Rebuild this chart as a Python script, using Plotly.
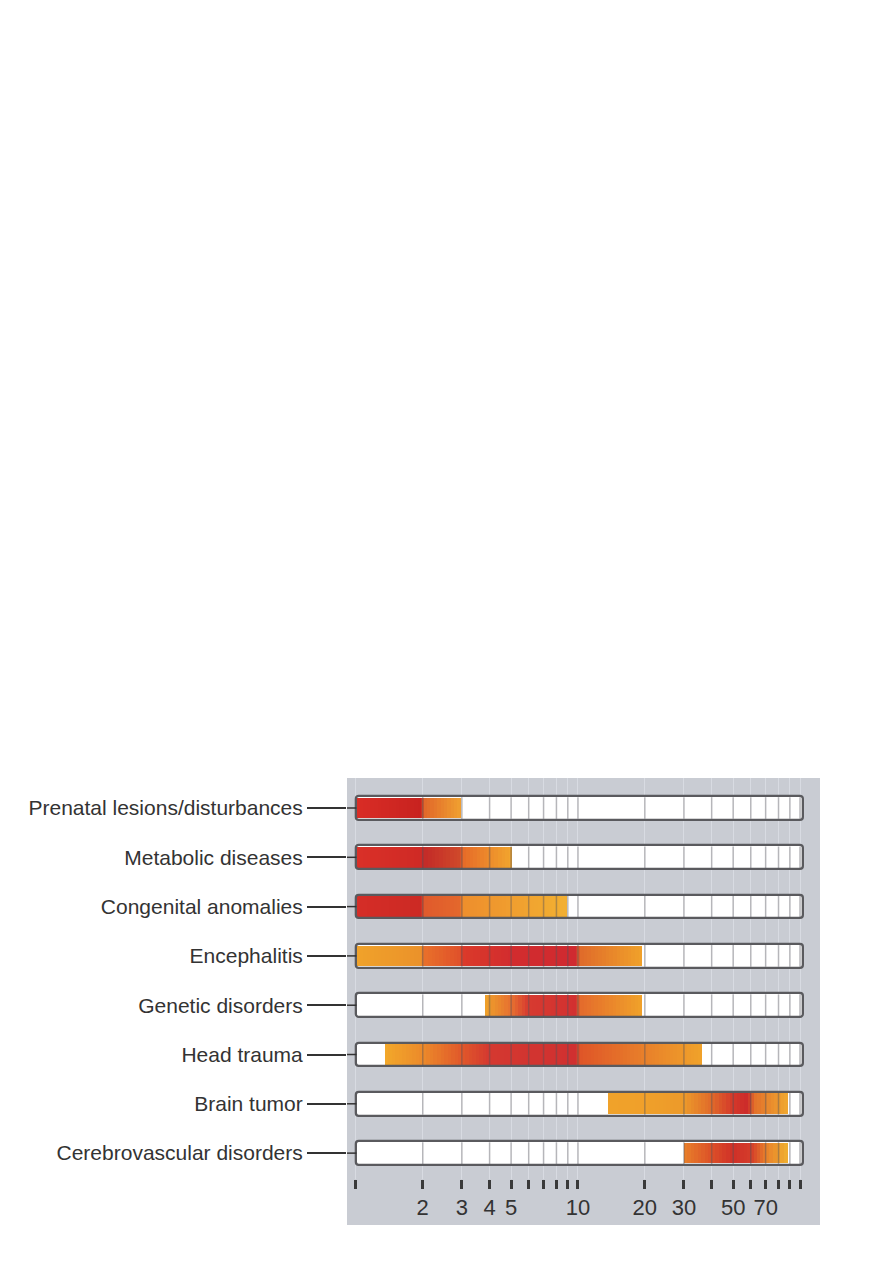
import plotly.graph_objects as go
import numpy as np

# ---------------- data ----------------
categories = [
    "Prenatal lesions/disturbances",
    "Metabolic diseases",
    "Congenital anomalies",
    "Encephalitis",
    "Genetic disorders",
    "Head trauma",
    "Brain tumor",
    "Cerebrovascular disorders",
]
# age range (years) over which each cause occurs
bar_start = [1.0, 1.0, 1.0, 1.0, 3.8, 1.35, 13.6, 30.0]
bar_end = [2.97, 5.05, 8.9, 19.5, 19.4, 36.0, 88.0, 88.0]

# colour stops along each bar (age, colour) - red = most frequent
color_stops = [
    [(1.0, "#d92d26"), (1.97, "#c8221f"), (2.02, "#e0662a"), (2.97, "#f0a030")],
    [(1.0, "#da3028"), (1.97, "#cf2a25"), (2.03, "#c32a28"), (2.97, "#d04a2a"),
     (3.03, "#e66a28"), (5.05, "#f2a72e")],
    [(1.0, "#d52d27"), (1.97, "#cc2a24"), (2.03, "#e05a2c"), (2.97, "#e4682c"),
     (3.03, "#ee8e2c"), (8.9, "#f2b032")],
    [(1.0, "#f0a22a"), (1.97, "#eb922a"), (2.03, "#e8702a"), (2.97, "#e0502a"),
     (3.03, "#db3a2a"), (5.0, "#d22c2e"), (9.8, "#d02a30"), (10.2, "#e06a2a"),
     (19.5, "#f0a22a")],
    [(3.8, "#eea22a"), (5.0, "#e67030"), (6.0, "#d73a30"), (9.8, "#d23030"),
     (10.2, "#e46a2c"), (19.4, "#f0a22a")],
    [(1.35, "#f2a82a"), (2.0, "#ec8a2a"), (3.0, "#e0582a"), (4.0, "#d43830"),
     (9.8, "#d03030"), (10.2, "#df5528"), (20.0, "#e8802a"), (36.0, "#f0a22a")],
    [(13.6, "#f0a22a"), (20.0, "#f0a02a"), (30.0, "#ec9a2a"), (40.0, "#e06a2a"),
     (50.0, "#d4382a"), (58.0, "#cc2a2a"), (62.0, "#e2702a"), (88.0, "#f0a830")],
    [(30.0, "#e8802a"), (40.0, "#dc5028"), (50.0, "#d03028"), (60.0, "#d43c2a"),
     (70.0, "#e8802a"), (88.0, "#f0b030")],
]

tick_vals = [1, 2, 3, 4, 5, 6, 7, 8, 9, 10, 20, 30, 40, 50, 60, 70, 80, 90, 100]
tick_text = ["", "2", "3", "4", "5", "", "", "", "", "10", "20", "30", "", "50", "", "70", "", "", ""]

axis_min, axis_max = 1.0, 103.0

# ---------------- helpers ----------------
def hex2rgb(h):
    h = h.lstrip("#")
    return np.array([int(h[i:i + 2], 16) for i in (0, 2, 4)], dtype=float)

def rgb2hex(c):
    return "#%02x%02x%02x" % tuple(int(round(v)) for v in c)

seg_y, seg_base, seg_w, seg_col = [], [], [], []
for cat, s, e, stops in zip(categories, bar_start, bar_end, color_stops):
    pts = [(max(s, a), c) for a, c in stops if a <= e]
    for (a0, c0), (a1, c1) in zip(pts[:-1], pts[1:]):
        n = max(2, int(np.ceil((np.log10(a1) - np.log10(a0)) * 60)))
        edges = np.logspace(np.log10(a0), np.log10(a1), n + 1)
        r0, r1 = hex2rgb(c0), hex2rgb(c1)
        for k in range(n):
            t = (k + 0.5) / n
            seg_y.append(cat)
            seg_base.append(edges[k])
            seg_w.append((edges[k + 1] - edges[k]) * (1.03 if k < n - 1 or a1 < e else 1.0))
            seg_col.append(rgb2hex(r0 + (r1 - r0) * t))

fig = go.Figure()

# white bar background
fig.add_trace(go.Bar(
    y=categories, x=[axis_max - axis_min] * len(categories), base=[axis_min] * len(categories),
    orientation="h", width=0.46, marker=dict(color="white", line=dict(width=0)),
    hoverinfo="skip", showlegend=False,
))
# coloured gradient segments
fig.add_trace(go.Bar(
    y=seg_y, x=seg_w, base=seg_base, orientation="h", width=0.42,
    marker=dict(color=seg_col, line=dict(width=0)),
    hoverinfo="skip", showlegend=False,
))
# outlines
fig.add_trace(go.Bar(
    y=categories, x=[axis_max - axis_min] * len(categories), base=[axis_min] * len(categories),
    orientation="h", width=0.48,
    marker=dict(color="rgba(0,0,0,0)", line=dict(color="#5a5a5e", width=2.3), cornerradius=3),
    hoverinfo="skip", showlegend=False,
))

shapes = []
# grey panel behind the chart
shapes.append(dict(type="rect", xref="paper", yref="paper", x0=0, x1=1, y0=-0.115, y1=1,
                   fillcolor="#c9ccd3", line=dict(width=0), layer="below"))
# vertical grid lines running through the bars
for cat in categories:
    for v in tick_vals[1:]:
        shapes.append(dict(type="line", xref="x", yref="y", x0=v, x1=v,
                           y0=categories.index(cat) - 0.22, y1=categories.index(cat) + 0.22,
                           line=dict(color="rgba(80,80,90,0.42)", width=1.5), layer="above"))
# leader line pieces inside the panel
for cat in categories:
    shapes.append(dict(type="line", xref="paper", yref="y", x0=0, x1=0.02, y0=cat, y1=cat,
                       line=dict(color="#333333", width=1.5), layer="above"))

font_family = "Liberation Sans, Arial, sans-serif"

fig.update_layout(
    width=885, height=1255,
    margin=dict(l=339, r=73, t=770, b=84),
    paper_bgcolor="white", plot_bgcolor="rgba(0,0,0,0)",
    barmode="overlay", bargap=0,
    shapes=shapes,
    font=dict(family=font_family, size=21, color="#333333"),
    xaxis=dict(
        type="log", range=[np.log10(0.912), np.log10(123.0)],
        tickvals=tick_vals, ticktext=tick_text,
        ticks="outside", ticklen=9, tickwidth=2.5, tickcolor="#3a3a3a",
        showgrid=True, gridcolor="#d8dbe2", gridwidth=1.2,
        zeroline=False, showline=False,
        tickfont=dict(family=font_family, size=22, color="#333333"),
    ),
    yaxis=dict(
        type="category", categoryorder="array", categoryarray=categories,
        range=[7.525, -0.6085],
        ticks="outside", ticklen=39, tickwidth=1.5, tickcolor="#333333",
        showgrid=False, zeroline=False, showline=False,
        tickfont=dict(family=font_family, size=21, color="#333333"),
    ),
)

fig.write_html("out.html")
